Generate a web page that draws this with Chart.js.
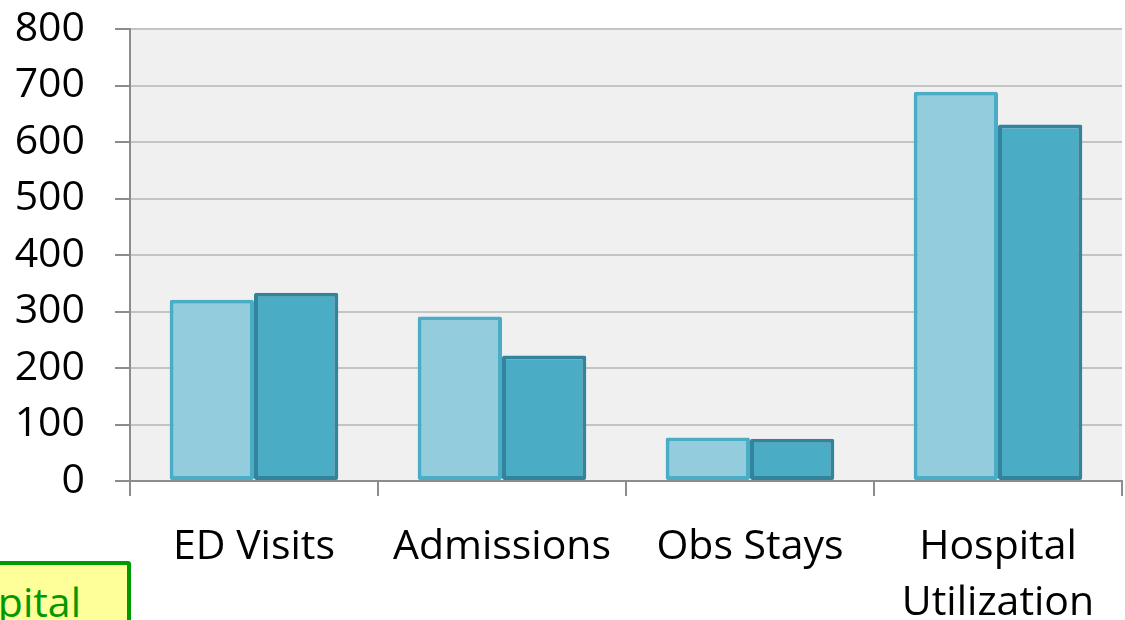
<!DOCTYPE html>
<html>
<head>
<meta charset="utf-8">
<script src="https://cdn.jsdelivr.net/npm/chart.js@4/dist/chart.umd.min.js"></script>
<style>
  html, body { margin: 0; padding: 0; background: #fff; }
  #wrap { position: relative; width: 1125px; height: 620px; overflow: hidden; }
  #chart { position: absolute; left: 0; top: 0; }
  /* callout box peeking in at the bottom left */
  .callout {
    position: absolute; left: -20px; top: 561px; width: 151px; height: 80px;
    background: #ffff99; border: 4px solid #009900; border-radius: 3px;
    overflow: hidden; box-sizing: border-box;
  }
  .callout span {
    position: absolute; right: 46px; top: 8px;
    font: 41px "Open Sans", sans-serif; color: #009900; white-space: nowrap;
  }
</style>
</head>
<body>
<div id="wrap">
  <canvas id="chart" width="1125" height="620"></canvas>
  <div class="callout"><span>Hospital</span></div>
</div>
<script>
const categories = ["ED Visits", "Admissions", "Obs Stays", ["Hospital", "Utilization"]];
const seriesA = [321, 291, 77, 689];
const seriesB = [333, 222, 75, 631];
const yTicks = [0, 100, 200, 300, 400, 500, 600, 700, 800];

const X_FONT = { family: "'Open Sans', sans-serif", size: 41, lineHeight: 1.35 };
const Y_FONT = { family: "'Open Sans', sans-serif", size: 41, lineHeight: 1 };

// grey plot area behind the bars
const plotBg = {
  id: "plotBg",
  beforeDraw(chart) {
    const { ctx, chartArea: a } = chart;
    ctx.save();
    ctx.fillStyle = "#f0f0f0";
    ctx.fillRect(a.left, a.top, a.right - a.left, a.bottom - a.top);
    ctx.restore();
  },
};

new Chart(document.getElementById("chart").getContext("2d"), {
  type: "bar",
  data: {
    labels: categories,
    datasets: [
      {
        data: seriesA,
        backgroundColor: "#93cddd",
        borderColor: "#4bacc6",
        borderWidth: 4,
        borderSkipped: false,
        borderRadius: 2,
        barPercentage: 1.0,
        categoryPercentage: 0.68,
      },
      {
        data: seriesB,
        backgroundColor: "#4bacc6",
        borderColor: "#31849b",
        borderWidth: 4,
        borderSkipped: false,
        borderRadius: 2,
        barPercentage: 1.0,
        categoryPercentage: 0.68,
      },
    ],
  },
  options: {
    responsive: false,
    animation: false,
    layout: { padding: { top: 29, right: 3, left: 0, bottom: 0 } },
    plugins: { legend: { display: false }, tooltip: { enabled: false } },
    scales: {
      x: {
        offset: true,
        grid: {
          offset: true,
          drawOnChartArea: false,
          tickLength: 15,
          tickColor: "#8c8c8c",
          lineWidth: 2,
        },
        border: { color: "#8c8c8c", width: 2 },
        ticks: { color: "#000", font: X_FONT, padding: 24, maxRotation: 0, autoSkip: false },
        afterFit: (s) => { s.height = 139; s.paddingLeft = 0; s.paddingRight = 0; },
      },
      y: {
        min: 0,
        max: 800,
        afterBuildTicks: (s) => { s.ticks = yTicks.map((v) => ({ value: v })); },
        grid: { color: "#c4c4c4", lineWidth: 2, tickLength: 15, tickColor: "#8c8c8c" },
        border: { color: "#8c8c8c", width: 2 },
        ticks: { color: "#000", font: Y_FONT, padding: 30, autoSkip: false },
        afterFit: (s) => { s.width = 130; s.paddingTop = 0; s.paddingBottom = 0; },
      },
    },
  },
  plugins: [plotBg],
});
</script>
</body>
</html>
